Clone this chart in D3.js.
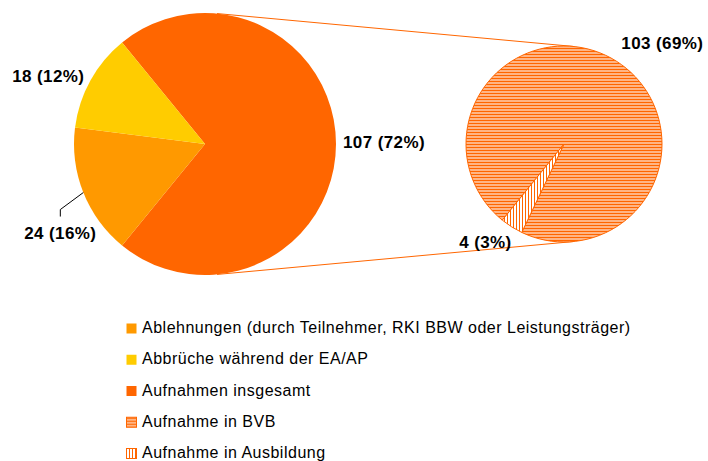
<!DOCTYPE html>
<html>
<head>
<meta charset="utf-8">
<script src="https://cdn.jsdelivr.net/npm/d3@7"></script>
<style>
  body { margin: 0; background: #fff; }
  svg { display: block; font-family: "Liberation Sans", Arial, sans-serif; }
  .lbl { font-weight: bold; font-size: 17px; fill: #000; letter-spacing: 0.4px; }
  .legend text { font-size: 16px; fill: #000; letter-spacing: 0.5px; }
</style>
</head>
<body>
<svg width="708" height="461"></svg>
<script>
// legend order
const categories = [
  "Ablehnungen (durch Teilnehmer, RKI BBW oder Leistungsträger)",
  "Abbrüche während der EA/AP",
  "Aufnahmen insgesamt",
  "Aufnahme in BVB",
  "Aufnahme in Ausbildung"
];
const mainKeys = ["Aufnahmen insgesamt", "Ablehnungen (durch Teilnehmer, RKI BBW oder Leistungsträger)", "Abbrüche während der EA/AP"];
const mainValues = [107, 24, 18];
const subKeys = ["Aufnahme in BVB", "Aufnahme in Ausbildung"];
const subValues = [103, 4];

const svg = d3.select("svg");
const rad = Math.PI / 180;
const total = d3.sum(mainValues);
const pct = v => `${v} (${Math.round(v / total * 100)}%)`;

const defs = svg.append("defs");
let p = defs.append("pattern").attr("id", "hz").attr("patternUnits", "userSpaceOnUse")
  .attr("width", 6).attr("height", 3);
p.append("rect").attr("width", 6).attr("height", 3).attr("fill", "#ffb585");
p.append("rect").attr("width", 6).attr("height", 1).attr("fill", "#ff6600");
p = defs.append("pattern").attr("id", "vt").attr("patternUnits", "userSpaceOnUse")
  .attr("width", 3).attr("height", 6);
p.append("rect").attr("width", 3).attr("height", 6).attr("fill", "#fff");
p.append("rect").attr("width", 1).attr("height", 6).attr("fill", "#ff6600");

const fill = d3.scaleOrdinal()
  .domain(categories)
  .range(["#ff9900", "#ffcc00", "#ff6600", "url(#hz)", "url(#vt)"]);

// geometry
const c1 = [205, 144], r1 = 131;
const c2 = [564, 144], r2 = 98;
const pt = (c, r, a) => [c[0] + r * Math.sin(a), c[1] - r * Math.cos(a)];

// connector lines = outer tangents of both circles
const phi = Math.asin((r1 - r2) / (c2[0] - c1[0]));
[phi, Math.PI - phi].forEach(a => {
  const a1 = pt(c1, r1, a), a2 = pt(c2, r2, a);
  svg.append("line")
    .attr("x1", a1[0]).attr("y1", a1[1]).attr("x2", a2[0]).attr("y2", a2[1])
    .attr("stroke", "#ff6600").attr("stroke-width", 1);
});

// main pie: "other" slice centred on the right
const otherSpan = mainValues[0] / total * 2 * Math.PI;
const start1 = Math.PI / 2 - otherSpan / 2;
const pie1 = d3.pie().sort(null).startAngle(start1).endAngle(start1 + 2 * Math.PI);
const arcs1 = pie1(mainValues);
const arc1 = d3.arc().innerRadius(0).outerRadius(r1);

svg.append("g").attr("transform", `translate(${c1})`)
  .selectAll("path").data(arcs1).join("path")
  .attr("d", arc1)
  .attr("fill", (d, i) => fill(mainKeys[i]));

// sub pie
const start2 = 219 * rad;
const pie2 = d3.pie().sort(null).startAngle(start2).endAngle(start2 + 2 * Math.PI);
const arcs2 = pie2(subValues);
const arc2 = d3.arc().innerRadius(0).outerRadius(r2);

svg.append("g").attr("transform", `translate(${c2})`)
  .selectAll("path").data(arcs2).join("path")
  .attr("d", arc2)
  .attr("fill", (d, i) => fill(subKeys[i]))
  .attr("stroke", "#ff6600").attr("stroke-width", 1);

const mid = d => (d.startAngle + d.endAngle) / 2;

// labels
let q = pt(c1, r1, mid(arcs1[0]));
svg.append("text").attr("class", "lbl").attr("x", q[0] + 7).attr("y", q[1] + 4)
  .text(pct(mainValues[0]));

q = pt(c1, r1, mid(arcs1[2]));
svg.append("text").attr("class", "lbl").attr("text-anchor", "end")
  .attr("x", q[0] - 6).attr("y", q[1] + 1).text(pct(mainValues[2]));

q = pt(c1, r1, mid(arcs1[1]));
const elbow = [q[0] - 23, q[1] + 17];
svg.append("polyline")
  .attr("points", [q, elbow, [elbow[0], elbow[1] + 7]].map(d => d.join(",")).join(" "))
  .attr("fill", "none").attr("stroke", "#000").attr("stroke-width", 1);
svg.append("text").attr("class", "lbl").attr("text-anchor", "middle")
  .attr("x", elbow[0]).attr("y", elbow[1] + 29).text(pct(mainValues[1]));

q = pt(c2, r2, mid(arcs2[0]));
svg.append("text").attr("class", "lbl").attr("x", q[0] + 5).attr("y", q[1] - 12)
  .text(pct(subValues[0]));

q = pt(c2, r2, mid(arcs2[1]));
svg.append("text").attr("class", "lbl").attr("text-anchor", "end")
  .attr("x", q[0]).attr("y", q[1] + 21).text(pct(subValues[1]));

// legend
const y = d3.scalePoint().domain(categories).range([333, 458]);
const lg = svg.append("g").attr("class", "legend")
  .selectAll("g").data(categories).join("g")
  .attr("transform", d => `translate(126,${y(d)})`);
lg.append("rect")
  .attr("x", 0.5).attr("y", -9.5).attr("width", 10).attr("height", 10)
  .attr("fill", d => fill(d))
  .attr("stroke", (d, i) => i > 2 ? "#ff6600" : "none");
lg.append("text").attr("x", 16).attr("y", 0).text(d => d);
</script>
</body>
</html>
